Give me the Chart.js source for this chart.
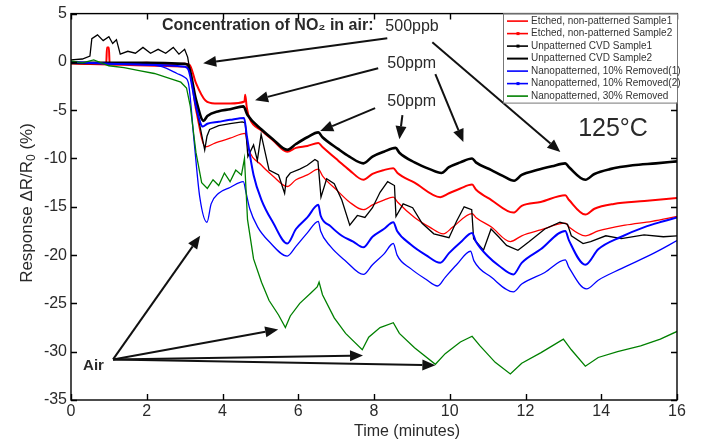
<!DOCTYPE html>
<html>
<head>
<meta charset="utf-8">
<script src="https://cdn.jsdelivr.net/npm/chart.js@4.4.1/dist/chart.umd.min.js"></script>
<style>
	html, body { margin: 0; padding: 0; background: #fff; }
	#wrap { width: 704px; height: 442px; }
</style>
</head>
<body>
<div id="wrap"><canvas id="grafico" width="704" height="442"></canvas></div>
<script>
// Dados: [tempo (min), resposta (%)]
const etched1 = [[0,-0.1],[0.5,-0.2],[0.93,-0.2],[0.95,1.5],[1.0,1.5],[1.02,-0.2],[1.5,-0.2],[2,-0.1],[2.5,-0.3],[3.0,-0.2],[3.13,-0.3],[3.3,-2.2],[3.55,-4.0],[3.8,-4.3],[4.2,-4.3],[4.58,-4.1],[4.6,-3.4],[4.64,-4.7],[4.72,-5.9],[5.03,-7.1],[5.33,-8.1],[5.71,-9.3],[5.94,-8.9],[6.24,-8.7],[6.53,-8.4],[6.64,-8.8],[7.05,-10.2],[7.35,-11.2],[7.72,-12.2],[7.96,-11.6],[8.26,-11.2],[8.51,-11.0],[8.62,-11.5],[9.07,-12.5],[9.75,-14.0],[9.98,-13.6],[10.28,-13.1],[10.59,-12.7],[10.69,-13.2],[11.1,-14.3],[11.68,-15.6],[11.9,-14.9],[12.4,-14.5],[13.05,-13.8],[13.15,-14.3],[13.58,-15.8],[13.82,-15.2],[14.33,-14.7],[15.14,-14.4],[16,-14.1]];
const etched2 = [[0,-0.2],[1,-0.3],[2,-0.4],[3.0,-0.5],[3.1,-0.6],[3.3,-5.1],[3.55,-8.8],[3.8,-8.4],[4.2,-7.9],[4.6,-7.4],[4.67,-8.8],[5.03,-10.7],[5.33,-11.8],[5.71,-12.9],[5.94,-12.2],[6.24,-11.7],[6.53,-11.1],[6.64,-11.8],[7.05,-13.4],[7.35,-14.5],[7.72,-15.3],[7.96,-14.8],[8.26,-14.3],[8.51,-14.0],[8.62,-14.5],[9.07,-16.1],[9.47,-17.1],[9.83,-17.8],[10.08,-17.1],[10.59,-15.7],[10.69,-16.1],[11.1,-17.1],[11.6,-18.6],[11.9,-18.0],[12.4,-17.4],[13.05,-16.7],[13.15,-17.1],[13.58,-18.0],[13.92,-17.5],[14.63,-16.9],[15.34,-16.5],[16,-16.0]];
const cvd1 = [[0,0.2],[0.3,0.3],[0.5,0.6],[0.55,2.4],[0.7,2.8],[0.85,2.2],[1.0,2.6],[1.1,1.9],[1.2,2.3],[1.3,0.8],[1.5,1.1],[1.7,0.9],[1.9,1.5],[2.1,0.9],[2.3,1.3],[2.5,0.9],[2.7,1.5],[2.85,0.8],[3.0,1.3],[3.08,0.5],[3.3,-4.6],[3.53,-9.1],[3.59,-7.7],[3.66,-7.0],[3.9,-6.6],[4.2,-6.4],[4.52,-6.2],[4.6,-6.3],[4.67,-9.8],[4.82,-8.6],[4.92,-10.2],[5.02,-7.5],[5.23,-11.2],[5.48,-11.7],[5.64,-13.6],[5.69,-12.0],[5.79,-11.5],[6.04,-11.1],[6.24,-10.7],[6.44,-10.1],[6.52,-10.3],[6.6,-14.0],[6.75,-12.1],[6.95,-12.6],[7.15,-14.3],[7.36,-16.9],[7.56,-15.9],[7.76,-16.1],[7.96,-15.1],[8.16,-13.5],[8.36,-12.4],[8.54,-12.8],[8.58,-16.0],[8.77,-14.7],[9.02,-15.1],[9.27,-16.7],[9.58,-17.8],[9.98,-18.2],[10.18,-16.5],[10.38,-15.0],[10.58,-15.3],[10.63,-18.3],[10.89,-19.5],[11.09,-17.3],[11.29,-18.1],[11.5,-19.0],[11.8,-19.5],[12.1,-18.6],[12.51,-17.3],[12.91,-16.6],[13.11,-16.8],[13.21,-18.0],[13.52,-18.8],[13.72,-18.6],[14.12,-18.0],[14.53,-18.3],[15.13,-17.9],[15.64,-18.1],[16,-18.0]];
const cvd2 = [[0,-0.1],[1,-0.1],[2,-0.1],[3.0,-0.2],[3.1,-0.4],[3.3,-3.9],[3.5,-6.1],[3.6,-5.6],[3.9,-5.1],[4.2,-4.9],[4.55,-4.6],[4.66,-5.5],[5.03,-7.0],[5.33,-8.0],[5.71,-9.1],[5.94,-8.5],[6.24,-7.8],[6.53,-7.3],[6.64,-7.8],[7.05,-9.0],[7.35,-9.8],[7.72,-10.5],[7.96,-9.8],[8.26,-9.3],[8.57,-8.9],[8.67,-9.4],[9.07,-10.4],[9.47,-11.1],[9.78,-11.5],[9.98,-10.9],[10.28,-10.4],[10.59,-10.0],[10.69,-10.4],[11.1,-11.2],[11.4,-11.8],[11.7,-12.3],[11.9,-11.7],[12.3,-11.2],[12.7,-10.8],[13.05,-10.5],[13.15,-10.9],[13.58,-12.2],[13.82,-11.6],[14.23,-11.1],[14.83,-10.7],[15.44,-10.5],[16,-10.3]];
const nano10a = [[0,0],[1,-0.2],[2,-0.3],[3.0,-0.5],[3.1,-0.8],[3.3,-4.6],[3.48,-6.7],[3.6,-6.4],[3.9,-6.2],[4.2,-6.0],[4.57,-5.8],[4.64,-7.6],[4.82,-11.7],[5.03,-14.3],[5.33,-16.6],[5.71,-18.8],[5.94,-17.3],[6.24,-16.1],[6.53,-14.8],[6.59,-15.9],[6.85,-17.0],[7.15,-18.0],[7.45,-18.6],[7.72,-19.2],[7.96,-18.1],[8.26,-17.3],[8.51,-16.6],[8.61,-17.5],[8.97,-18.9],[9.37,-20.0],[9.75,-20.8],[9.98,-19.8],[10.28,-18.7],[10.59,-17.7],[10.69,-18.6],[11.0,-20.1],[11.3,-21.1],[11.68,-22.0],[11.9,-20.8],[12.4,-19.4],[13.05,-17.5],[13.15,-18.5],[13.58,-21.0],[13.92,-19.4],[14.53,-18.1],[15.14,-17.1],[15.64,-16.5],[16,-16.1]];
const nano10b = [[0,0],[1,-0.2],[2,-0.3],[2.4,-0.5],[2.8,-1.2],[3.0,-1.6],[3.1,-2.2],[3.25,-8.2],[3.4,-14.0],[3.59,-16.6],[3.7,-14.7],[3.9,-13.6],[4.2,-13.0],[4.55,-12.4],[4.62,-13.5],[4.72,-15.2],[4.93,-17.1],[5.23,-18.6],[5.71,-20.1],[5.94,-19.1],[6.24,-17.7],[6.53,-16.5],[6.59,-17.5],[6.85,-19.1],[7.25,-20.6],[7.72,-22.0],[7.96,-21.0],[8.26,-19.9],[8.51,-18.8],[8.61,-20.0],[8.97,-21.4],[9.37,-22.5],[9.68,-23.2],[9.88,-22.3],[10.18,-21.0],[10.55,-19.6],[10.64,-20.6],[11.1,-22.3],[11.68,-23.8],[11.9,-23.0],[12.51,-21.8],[13.05,-20.5],[13.15,-21.3],[13.61,-23.5],[13.92,-22.6],[14.53,-21.4],[15.39,-19.8],[16,-18.5]];
const nano30 = [[0,0.1],[0.3,-0.1],[0.6,0.2],[1.0,-0.4],[1.4,-0.6],[1.8,-0.9],[2.2,-1.2],[2.6,-1.7],[2.9,-2.1],[3.05,-2.7],[3.15,-4.6],[3.3,-9.4],[3.45,-12.5],[3.6,-13.1],[3.75,-12.2],[3.9,-12.8],[4.05,-11.5],[4.2,-12.4],[4.35,-11.2],[4.5,-11.7],[4.58,-10.0],[4.66,-16.3],[4.82,-20.4],[5.03,-22.8],[5.23,-24.7],[5.48,-26.2],[5.66,-27.5],[5.79,-26.3],[6.04,-25.0],[6.34,-23.9],[6.5,-23.3],[6.55,-22.8],[6.64,-24.1],[6.95,-26.5],[7.25,-28.1],[7.69,-29.8],[7.86,-28.5],[8.16,-27.5],[8.51,-27.0],[8.67,-28.1],[9.07,-29.6],[9.62,-31.3],[9.88,-30.2],[10.28,-29.0],[10.59,-28.4],[10.8,-29.4],[11.2,-31.1],[11.6,-32.3],[11.9,-31.2],[12.41,-30.1],[13.0,-28.7],[13.21,-29.8],[13.58,-31.5],[13.92,-30.6],[14.43,-30.0],[15.04,-29.4],[15.56,-28.7],[16,-27.9]];

const nomes = [
	"Etched, non-patterned Sample1",
	"Etched, non-patterned Sample2",
	"Unpatterned CVD Sample1",
	"Unpatterned CVD Sample2",
	"Nanopatterned, 10% Removed(1)",
	"Nanopatterned, 10% Removed(2)",
	"Nanopatterned, 30% Removed",
];
const xTicks = [0, 2, 4, 6, 8, 10, 12, 14, 16];
const yTicks = [-35, -30, -25, -20, -15, -10, -5, 0, 5];

// Anotações (em coordenadas do gráfico)
const setas = [
	[8.35, 2.45, 3.49, -0.13],
	[9.54, 2.03, 12.92, -9.33],
	[8.11, -0.65, 4.86, -3.96],
	[9.62, -1.27, 10.36, -8.3],
	[8.03, -4.79, 6.58, -7.16],
	[8.75, -5.5, 8.67, -8.0],
	[1.11, -30.8, 3.41, -18.0],
	[1.11, -30.8, 5.47, -27.7],
	[1.11, -30.8, 7.71, -30.4],
	[1.11, -30.8, 9.62, -31.4],
];
const textos = [
	{ texto: "Concentration of NO\u2082 in air:", x: 2.40, y: 3.79, fonte: "bold 16px" },
	{ texto: "500ppb", x: 8.30, y: 3.64, fonte: "16px" },
	{ texto: "50ppm", x: 8.35, y: -0.13, fonte: "16px" },
	{ texto: "50ppm", x: 8.35, y: -4.06, fonte: "16px" },
	{ texto: "125°C", x: 13.39, y: -6.97, fonte: "25px" },
	{ texto: "Air", x: 0.32, y: -31.45, fonte: "bold 15px" },
];

const FAMILIA = "'Liberation Sans', Arial, sans-serif";
const cores = ["#ff0000", "#ff0000", "#000000", "#000000", "#0000ff", "#0000ff", "#008000"];
const larguras = [2, 1.3, 1.3, 2.6, 2, 1.3, 1.3];
const suaves = [true, true, false, true, true, true, false];
const comPonto = [false, true, true, false, false, true, false];
const dadosSeries = [etched1, etched2, cvd1, cvd2, nano10a, nano10b, nano30];

const datasets = dadosSeries.map((serie, i) => ({
	label: nomes[i],
	data: serie.map((p) => ({ x: p[0], y: p[1] })),
	borderColor: cores[i],
	backgroundColor: cores[i],
	borderWidth: larguras[i],
	pointRadius: 0,
	fill: false,
	cubicInterpolationMode: suaves[i] ? "monotone" : "default",
	tension: 0,
	order: 7 - i,
}));

// Moldura com marcas para dentro (estilo MATLAB)
const moldura = {
	id: "moldura",
	afterDatasetsDraw(chart) {
		const { ctx, chartArea: a, scales } = chart;
		const x = scales.x, y = scales.y;
		ctx.save();
		ctx.strokeStyle = "#000";
		ctx.lineWidth = 1.4;
		ctx.strokeRect(a.left, a.top, a.right - a.left, a.bottom - a.top);
		ctx.beginPath();
		xTicks.forEach((t) => {
			const px = Math.round(x.getPixelForValue(t)) + 0.5;
			ctx.moveTo(px, a.bottom); ctx.lineTo(px, a.bottom - 6);
			ctx.moveTo(px, a.top); ctx.lineTo(px, a.top + 6);
		});
		yTicks.forEach((v) => {
			const py = Math.round(y.getPixelForValue(v)) + 0.5;
			ctx.moveTo(a.left, py); ctx.lineTo(a.left + 6, py);
			ctx.moveTo(a.right, py); ctx.lineTo(a.right - 6, py);
		});
		ctx.stroke();

		// setas
		ctx.fillStyle = "#111";
		ctx.strokeStyle = "#111";
		ctx.lineWidth = 2;
		setas.forEach((s) => {
			const x0 = x.getPixelForValue(s[0]), y0 = y.getPixelForValue(s[1]);
			const x1 = x.getPixelForValue(s[2]), y1 = y.getPixelForValue(s[3]);
			const ang = Math.atan2(y1 - y0, x1 - x0);
			const L = 13, W = 5.5;
			const bx = x1 - L * Math.cos(ang), by = y1 - L * Math.sin(ang);
			ctx.beginPath();
			ctx.moveTo(x0, y0); ctx.lineTo(bx, by);
			ctx.stroke();
			ctx.beginPath();
			ctx.moveTo(x1, y1);
			ctx.lineTo(bx + W * Math.sin(ang), by - W * Math.cos(ang));
			ctx.lineTo(bx - W * Math.sin(ang), by + W * Math.cos(ang));
			ctx.closePath();
			ctx.fill();
		});

		// textos
		ctx.textBaseline = "middle";
		ctx.textAlign = "left";
		textos.forEach((t) => {
			ctx.font = t.fonte + " " + FAMILIA;
			ctx.fillStyle = "#2a2a2a";
			ctx.fillText(t.texto, x.getPixelForValue(t.x), y.getPixelForValue(t.y));
		});

		// legenda
		const lx = 503, ly = a.top, lw = a.right - lx, lh = 89;
		ctx.fillStyle = "#fff";
		ctx.fillRect(lx, ly, lw, lh);
		ctx.strokeStyle = "#777";
		ctx.lineWidth = 1;
		ctx.strokeRect(lx + 0.5, ly + 0.5, lw, lh);
		ctx.font = "10px " + FAMILIA;
		chart.data.datasets.forEach((d, i) => {
			const yy = ly + 7.5 + i * 12.5;
			ctx.strokeStyle = d.borderColor;
			ctx.lineWidth = i === 3 ? 2 : 1.6;
			ctx.beginPath();
			ctx.moveTo(lx + 4, yy); ctx.lineTo(lx + 25, yy);
			ctx.stroke();
			if (comPonto[i]) {
				ctx.fillStyle = d.borderColor;
				ctx.fillRect(lx + 13.5, yy - 1.5, 3, 3);
			}
			ctx.fillStyle = "#333";
			ctx.fillText(d.label, lx + 28, yy);
		});

		// título do eixo x
		ctx.fillStyle = "#2a2a2a";
		ctx.font = "16px " + FAMILIA;
		ctx.textAlign = "center";
		ctx.fillText("Time (minutes)", 407, 432);

		// título do eixo y com subscrito
		ctx.translate(27, 203);
		ctx.rotate(-Math.PI / 2);
		const p1 = "Response \u0394R/R", p2 = "0", p3 = " (%)";
		ctx.font = "17px " + FAMILIA;
		const w1 = ctx.measureText(p1).width, w3 = ctx.measureText(p3).width;
		ctx.font = "12px " + FAMILIA;
		const w2 = ctx.measureText(p2).width;
		const total = w1 + w2 + w3;
		ctx.textAlign = "left";
		ctx.font = "17px " + FAMILIA;
		ctx.fillText(p1, -total / 2, 0);
		ctx.font = "12px " + FAMILIA;
		ctx.fillText(p2, -total / 2 + w1, 5);
		ctx.font = "17px " + FAMILIA;
		ctx.fillText(p3, -total / 2 + w1 + w2, 0);
		ctx.restore();
	},
};

const ctx = document.getElementById("grafico");

new Chart(ctx, {
	type: "line",
	data: { datasets: datasets },
	options: {
		responsive: false,
		animation: false,
		devicePixelRatio: 1,
		layout: { padding: { left: 0, right: 27, top: 13, bottom: 0 } },
		plugins: {
			legend: { display: false },
			tooltip: { enabled: false },
		},
		scales: {
			x: {
				type: "linear",
				min: 0,
				max: 16,
				grid: { display: false, drawTicks: false },
				border: { display: false },
				afterBuildTicks: (s) => { s.ticks = xTicks.map((v) => ({ value: v })); },
				afterFit: (s) => { s.height = 42; },
				ticks: { color: "#2a2a2a", padding: 2, maxRotation: 0, font: { size: 16, family: FAMILIA } },
			},
			y: {
				type: "linear",
				min: -35,
				max: 5,
				grid: { display: false, drawTicks: false },
				border: { display: false },
				afterBuildTicks: (s) => { s.ticks = yTicks.map((v) => ({ value: v })); },
				afterFit: (s) => { s.width = 71; },
				ticks: { color: "#2a2a2a", padding: 4, font: { size: 16, family: FAMILIA } },
			},
		},
	},
	plugins: [moldura],
});
</script>
</body>
</html>
